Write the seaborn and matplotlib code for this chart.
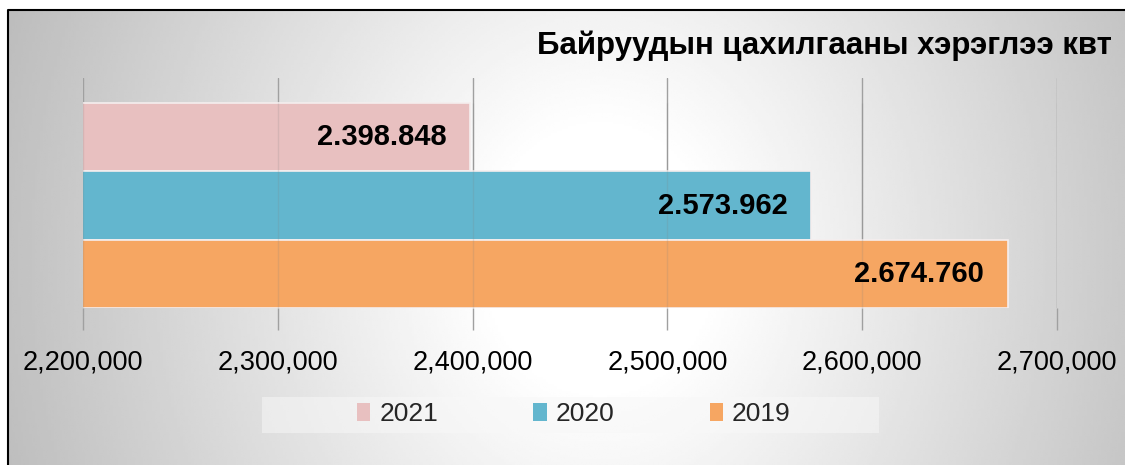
import numpy as np
import matplotlib
matplotlib.use('Agg')
import matplotlib.pyplot as plt
from matplotlib.patches import Patch, Rectangle
from matplotlib.ticker import FuncFormatter
import seaborn as sns

# chart data
years = ['2021', '2020', '2019']
consumption = [2398848, 2573962, 2674760]
bar_colors = ['#e8c0c0', '#63b6ce', '#f6a662']
x_ticks = [2200000, 2300000, 2400000, 2500000, 2600000, 2700000]
title = 'Байруудын цахилгааны хэрэглээ квт'

sns.set_style('white')
plt.rcParams['font.family'] = ['Liberation Sans', 'DejaVu Sans']

W, H = 1125, 465
fig = plt.figure(figsize=(W / 100, H / 100), dpi=100)
fig.patch.set_facecolor('white')

# gradient backdrop of the chart frame
bg = fig.add_axes([8 / W, 0, 1 - 8 / W, 1 - 10 / H])
gx, gy = np.meshgrid(np.linspace(8, W, 400), np.linspace(10, H, 200))
dist = np.sqrt(((gx - 600) / 560) ** 2 + ((gy - 260) / 650) ** 2)
shade = 1 - 0.24 * np.clip((dist - 0.2) / 0.85, 0, 1.2)
bg.imshow(shade, cmap='gray', vmin=0, vmax=1, aspect='auto',
          extent=[0, 1, 0, 1], interpolation='bilinear')
bg.set_xlim(0, 1)
bg.set_ylim(0, 1)
bg.axis('off')
bg.plot([0, 0, 1], [0, 1, 1], color='black', lw=1.5, transform=bg.transAxes, clip_on=False)

# legend backdrop
fig.patches.append(Rectangle((262 / W, 1 - 433 / H), 617 / W, 36 / H,
                             transform=fig.transFigure, facecolor='#f8f8f8',
                             edgecolor='none', alpha=0.5, zorder=1))

top_px, bot_px = 78, 308
ax = fig.add_axes([83 / W, 1 - bot_px / H, 974 / W, (bot_px - top_px) / H])
ax.patch.set_alpha(0)

sns.barplot(x=consumption, y=years, hue=years, palette=bar_colors, orient='h',
            width=1.0, saturation=1, legend=False, ax=ax, zorder=3,
            edgecolor='#f5eeee', linewidth=1.2)

extra = 25 / 68.3
ax.set_ylim(2.5, -0.5 - extra)
ax.set_xlim(x_ticks[0], x_ticks[-1])
ax.set_xticks(x_ticks)
ax.xaxis.set_major_formatter(FuncFormatter(lambda v, p: f'{v:,.0f}'))
ax.grid(axis='x', color='#a0a0a0', lw=1, zorder=1)
# faint lines showing through the bars
ax.vlines(x_ticks, -0.5, 2.5, color='#808080', lw=1, alpha=0.18, zorder=4)
ax.set_yticks([])
ax.set_xlabel('')
ax.set_ylabel('')
for s in ax.spines.values():
    s.set_visible(False)
ax.tick_params(axis='x', bottom=True, direction='out', length=16, width=1, color='#a0a0a0',
               pad=14, labelsize=19.5, labelcolor='black')

for i, v in enumerate(consumption):
    ax.annotate(f'{v:,}'.replace(',', '.'), xy=(v, i), xytext=(-17, 0),
                textcoords='offset points', ha='right', va='center',
                fontsize=21, fontweight='bold', color='black', zorder=5)

fig.text(537 / W, 1 - 46 / H, title, ha='left', va='center', fontsize=22.5,
         fontweight='bold', color='black')

handles = [Patch(facecolor=c, edgecolor='none') for c in bar_colors]
fig.legend(handles, years, loc='center', bbox_to_anchor=(574 / W, 1 - 414 / H),
           ncol=3, frameon=False, fontsize=19, handlelength=0.5, handleheight=0.65,
           handletextpad=0.35, columnspacing=3.6)

fig.savefig('out.png', dpi=100)
